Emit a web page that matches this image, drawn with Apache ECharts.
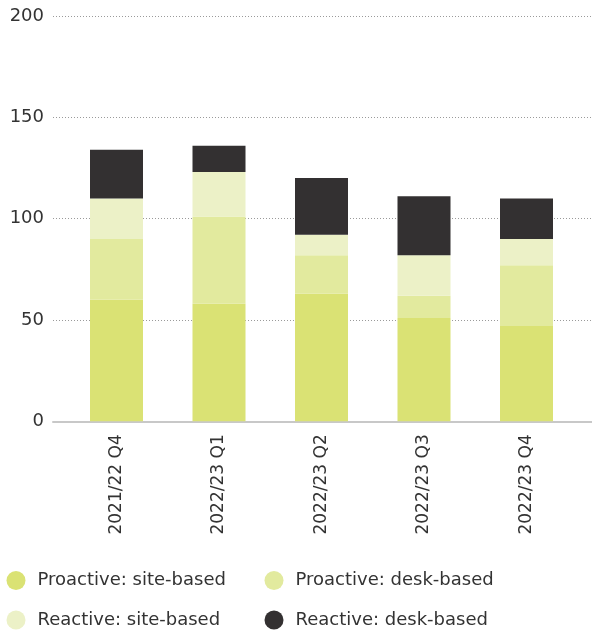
<!DOCTYPE html>
<html>
<head>
<meta charset="utf-8">
<script src="https://cdn.jsdelivr.net/npm/echarts@6/dist/echarts.min.js"></script>
<style>
  html, body { margin: 0; padding: 0; background: #fff; }
  #chart { width: 592px; height: 633px; }
</style>
</head>
<body>
<div id="chart"></div>
<script>
// Quarterly figures, stacked by type of work
const categories = ['2021/22 Q4', '2022/23 Q1', '2022/23 Q2', '2022/23 Q3', '2022/23 Q4'];
const proactiveSite = [60, 58, 63, 51, 47];
const proactiveDesk = [30, 43, 19, 11, 30];
const reactiveSite = [20, 22, 10, 20, 13];
const reactiveDesk = [24, 13, 28, 29, 20];
const yTicks = [0, 50, 100, 150, 200];

const seriesNames = ['Proactive: site-based', 'Proactive: desk-based', 'Reactive: site-based', 'Reactive: desk-based'];
const seriesColors = ['#dae274', '#e2ea9e', '#ecf1c7', '#333031'];
const seriesData = [proactiveSite, proactiveDesk, reactiveSite, reactiveDesk];

const FONT = 'DejaVu Sans';
const TEXT = '#333333';

const chart = echarts.init(document.getElementById('chart'), null, { renderer: 'canvas' });

const plotTop = 16;
const plotHeight = 405.3;

function legendAt(i, left, top) {
  return {
    show: true,
    data: [seriesNames[i]],
    left: left,
    top: top,
    padding: 0,
    orient: 'horizontal',
    icon: 'circle',
    itemWidth: 19,
    itemHeight: 19,
    selectedMode: false,
    textStyle: { fontFamily: FONT, fontSize: 18, color: TEXT, padding: [0, 0, 0, 7] }
  };
}

chart.setOption({
  animation: false,
  backgroundColor: '#ffffff',
  textStyle: { fontFamily: FONT },
  grid: [
    // gridlines, value labels and baseline
    { left: 53, right: 0, top: plotTop, height: plotHeight, containLabel: false },
    // stacked columns and quarter labels
    { left: 65.25, width: 512.5, top: plotTop, height: plotHeight, containLabel: false }
  ],
  legend: [
    legendAt(0, 6.5, 571),
    legendAt(1, 264.5, 571),
    legendAt(2, 6.5, 610.5),
    legendAt(3, 264.5, 610.5)
  ],
  xAxis: [
    {
      gridIndex: 0, type: 'category', data: [''],
      axisLine: { show: true, lineStyle: { color: '#c8c8c8', width: 2 } },
      axisTick: { show: false }, axisLabel: { show: false }, splitLine: { show: false }
    },
    {
      gridIndex: 1, type: 'category', data: categories,
      axisLine: { show: false }, axisTick: { show: false },
      axisLabel: { show: true, rotate: 90, margin: 13, fontSize: 17, fontFamily: FONT, color: TEXT }
    }
  ],
  yAxis: [
    {
      gridIndex: 0, type: 'value', min: yTicks[0], max: yTicks[yTicks.length - 1], interval: 50,
      axisLine: { show: false }, axisTick: { show: false },
      axisLabel: { show: true, margin: 9, fontSize: 18, fontFamily: FONT, color: TEXT },
      splitLine: { show: true, lineStyle: { color: '#9a9a9a', width: 1, type: [1, 2] } }
    },
    {
      gridIndex: 1, type: 'value', min: yTicks[0], max: yTicks[yTicks.length - 1], interval: 50,
      axisLine: { show: false }, axisTick: { show: false }, axisLabel: { show: false }, splitLine: { show: false }
    }
  ],
  series: seriesNames.map((name, i) => ({
    name: name,
    type: 'bar',
    xAxisIndex: 1,
    yAxisIndex: 1,
    stack: 'total',
    barWidth: 53,
    data: seriesData[i],
    itemStyle: { color: seriesColors[i] },
    emphasis: { disabled: true }
  }))
});
</script>
</body>
</html>
